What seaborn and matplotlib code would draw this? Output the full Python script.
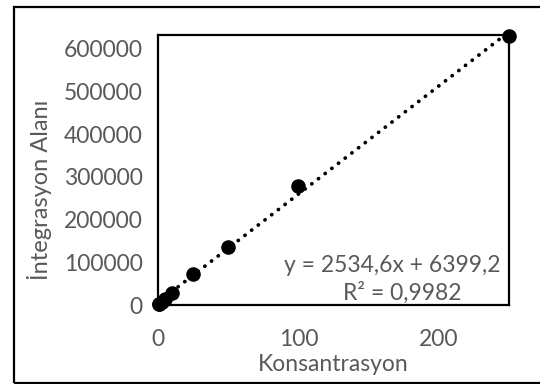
import numpy as np
import pandas as pd
import matplotlib
matplotlib.use('Agg')
import matplotlib.pyplot as plt
import seaborn as sns
from matplotlib.patches import Rectangle

# Veri
konsantrasyon = [0.5, 1, 2.5, 5, 10, 25, 50, 100, 250]
alan = [1500, 3000, 7000, 14000, 28900, 71900, 136600, 279600, 631100]
egim = 2534.6
kesisim = 6399.2
r2_text = "0,9982"
x_ticks = [0, 100, 200]
y_ticks = [0, 100000, 200000, 300000, 400000, 500000, 600000]

sns.set_theme(style="white")
plt.rcParams['font.family'] = ['Lato', 'DejaVu Sans']
GRI = '#595959'
FS = 16.5

df = pd.DataFrame({'Konsantrasyon': konsantrasyon, 'Alan': alan})

fig = plt.figure(figsize=(5.4, 3.84), dpi=100)
ax = fig.add_axes([0.2926, 0.2057, 0.65, 0.7032])

sns.scatterplot(data=df, x='Konsantrasyon', y='Alan', ax=ax, color='black',
                s=110, edgecolor='black', linewidth=0, zorder=3, clip_on=False)

# Doğrusal trend çizgisi (noktalı)
ax.axline((0, kesisim), slope=egim, color='black', lw=2.7,
          linestyle=(0, (0.05, 2.2)), dash_capstyle='round', zorder=2)

ax.set_xlim(0, 250)
ax.set_ylim(0, 632800)
ax.set_xticks(x_ticks)
ax.set_yticks(y_ticks)
ax.set_xticklabels([str(t) for t in x_ticks])
ax.set_yticklabels([str(t) for t in y_ticks])
ax.tick_params(axis='both', length=0, labelsize=FS, labelcolor=GRI)
ax.tick_params(axis='x', pad=17)
ax.tick_params(axis='y', pad=11)

for s in ax.spines.values():
    s.set_visible(True)
    s.set_color('black')
    s.set_linewidth(1.6)

ax.set_xlabel('Konsantrasyon', fontsize=FS, color=GRI, labelpad=3)
ax.set_ylabel('İntegrasyon Alanı', fontsize=17, color=GRI)
ax.yaxis.set_label_coords(-0.302, 0.426)

ax.text(0.977, 0.148, f'y = {egim:.1f}x + {kesisim:.1f}'.replace('.', ','),
        transform=ax.transAxes, ha='right', va='center', fontsize=FS, color=GRI)
ax.text(0.695, 0.044, 'R² = ' + r2_text, transform=ax.transAxes,
        ha='center', va='center', fontsize=FS, color=GRI)

# Dış çerçeve
fig.add_artist(Rectangle((14 / 540, 1 / 384), 1.0, 376 / 384, transform=fig.transFigure,
                         fill=False, edgecolor='black', lw=1.6, clip_on=False))

fig.savefig('out.png', dpi=100)
